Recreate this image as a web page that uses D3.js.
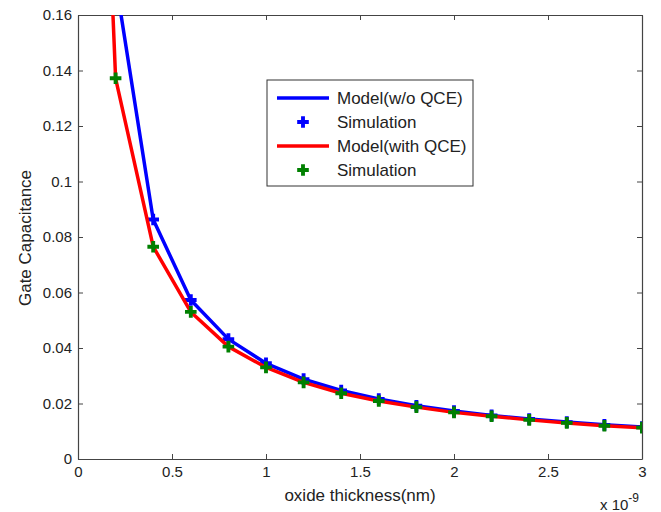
<!DOCTYPE html>
<html>
<head>
<meta charset="utf-8">
<script src="https://cdn.jsdelivr.net/npm/d3@7"></script>
<style>
  body { margin: 0; background: #fff; }
  text { font-family: "Liberation Sans", Arial, sans-serif; fill: #222; }
</style>
</head>
<body>
<div id="chart"></div>
<script>
// oxide thickness in nm (axis shows x 10^-9)
const modelX = [0.1, 0.2, 0.4, 0.6, 0.8, 1.0, 1.2, 1.4, 1.6, 1.8, 2.0, 2.2, 2.4, 2.6, 2.8, 3.0];
const modelNoQCE = [0.345, 0.1725, 0.0863, 0.0573, 0.0432, 0.0345, 0.0288, 0.0247, 0.0216, 0.0192, 0.0173, 0.0157, 0.0144, 0.0133, 0.0123, 0.0115];
const modelQCE = [0.30, 0.1372, 0.0765, 0.0530, 0.0405, 0.0330, 0.0276, 0.0237, 0.0209, 0.0187, 0.0168, 0.0154, 0.0141, 0.0130, 0.0120, 0.0113];

const simX = [0.2, 0.4, 0.6, 0.8, 1.0, 1.2, 1.4, 1.6, 1.8, 2.0, 2.2, 2.4, 2.6, 2.8, 3.0];
const simNoQCE = [0.1725, 0.0863, 0.0573, 0.0432, 0.0345, 0.0288, 0.0247, 0.0216, 0.0192, 0.0173, 0.0157, 0.0144, 0.0133, 0.0123, 0.0115];
const simQCE = [0.1372, 0.0765, 0.0530, 0.0405, 0.0330, 0.0276, 0.0237, 0.0209, 0.0187, 0.0168, 0.0154, 0.0141, 0.0130, 0.0120, 0.0113];

const xTicks = [0, 0.5, 1, 1.5, 2, 2.5, 3];
const xTickLabels = ["0", "0.5", "1", "1.5", "2", "2.5", "3"];
const yTicks = [0, 0.02, 0.04, 0.06, 0.08, 0.1, 0.12, 0.14, 0.16];
const yTickLabels = ["0", "0.02", "0.04", "0.06", "0.08", "0.1", "0.12", "0.14", "0.16"];

const legendLabels = ["Model(w/o QCE)", "Simulation", "Model(with QCE)", "Simulation"];

const width = 661, height = 512;
const margin = { left: 78, top: 15, right: 19, bottom: 53 };
const w = width - margin.left - margin.right;
const h = height - margin.top - margin.bottom;

const blue = "#0000ff", red = "#ff0000", green = "#008000", axisColor = "#444";

const svg = d3.select("#chart").append("svg").attr("width", width).attr("height", height);

svg.append("defs").append("clipPath").attr("id", "clip")
    .append("rect").attr("width", w).attr("height", h);

const g = svg.append("g").attr("transform", `translate(${margin.left},${margin.top})`);

const x = d3.scaleLinear().domain([0, 3]).range([0, w]);
const y = d3.scaleLinear().domain([0, 0.16]).range([h, 0]);

// axes with inward ticks, box on all four sides
function styleAxis(sel) {
    sel.select(".domain").attr("stroke", axisColor).attr("stroke-width", 1.2);
    sel.selectAll(".tick line").attr("stroke", axisColor);
    sel.selectAll(".tick text").style("font-size", "15px").attr("fill", "#222");
}

g.append("g").attr("transform", `translate(0,${h})`)
    .call(d3.axisBottom(x).tickValues(xTicks).tickFormat((d, i) => xTickLabels[i])
        .tickSizeInner(-5).tickSizeOuter(0).tickPadding(7))
    .call(styleAxis);
g.append("g")
    .call(d3.axisTop(x).tickValues(xTicks).tickFormat("")
        .tickSizeInner(-5).tickSizeOuter(0))
    .call(styleAxis);
g.append("g")
    .call(d3.axisLeft(y).tickValues(yTicks).tickFormat((d, i) => yTickLabels[i])
        .tickSizeInner(-5).tickSizeOuter(0).tickPadding(6))
    .call(styleAxis);
g.append("g").attr("transform", `translate(${w},0)`)
    .call(d3.axisRight(y).tickValues(yTicks).tickFormat("")
        .tickSizeInner(-5).tickSizeOuter(0))
    .call(styleAxis);

const plot = g.append("g").attr("clip-path", "url(#clip)");

const line = d3.line().x(d => x(d[0])).y(d => y(d[1]));
const plus = d3.symbol().type(d3.symbolCross).size(75);

function drawSeries(xs, ys, color) {
    plot.append("path").datum(xs.map((v, i) => [v, ys[i]]))
        .attr("d", line).attr("fill", "none")
        .attr("stroke", color).attr("stroke-width", 3.5).attr("stroke-linejoin", "round");
}
function drawMarkers(xs, ys, color) {
    plot.selectAll(null).data(xs.map((v, i) => [v, ys[i]])).enter()
        .append("path").attr("d", plus)
        .attr("transform", d => `translate(${x(d[0])},${y(d[1])})`)
        .attr("fill", color);
}

drawSeries(modelX, modelNoQCE, blue);
drawMarkers(simX, simNoQCE, blue);
drawSeries(modelX, modelQCE, red);
drawMarkers(simX, simQCE, green);

// axis labels
svg.append("text").attr("x", 360).attr("y", 501).attr("text-anchor", "middle")
    .style("font-size", "17px").text("oxide thickness(nm)");
svg.append("text").attr("transform", "translate(31,238) rotate(-90)").attr("text-anchor", "middle")
    .style("font-size", "17px").text("Gate Capacitance");

const expo = svg.append("text").attr("x", 600).attr("y", 510).style("font-size", "15px");
expo.append("tspan").text("x 10");
expo.append("tspan").attr("dy", -8).style("font-size", "12px").text("-9");

// legend
const lg = svg.append("g").attr("transform", "translate(267,80)");
lg.append("rect").attr("width", 206).attr("height", 106)
    .attr("fill", "#fff").attr("stroke", "#333").attr("stroke-width", 1);

const legendColors = [blue, blue, red, green];
const legendIsLine = [true, false, true, false];
legendLabels.forEach((label, i) => {
    const cy = 18 + i * 24;
    if (legendIsLine[i]) {
        lg.append("line").attr("x1", 10).attr("x2", 62).attr("y1", cy).attr("y2", cy)
            .attr("stroke", legendColors[i]).attr("stroke-width", 3.5);
    } else {
        lg.append("path").attr("d", plus).attr("transform", `translate(36,${cy})`)
            .attr("fill", legendColors[i]);
    }
    lg.append("text").attr("x", 70).attr("y", cy + 6).style("font-size", "17px").text(label);
});
</script>
</body>
</html>
